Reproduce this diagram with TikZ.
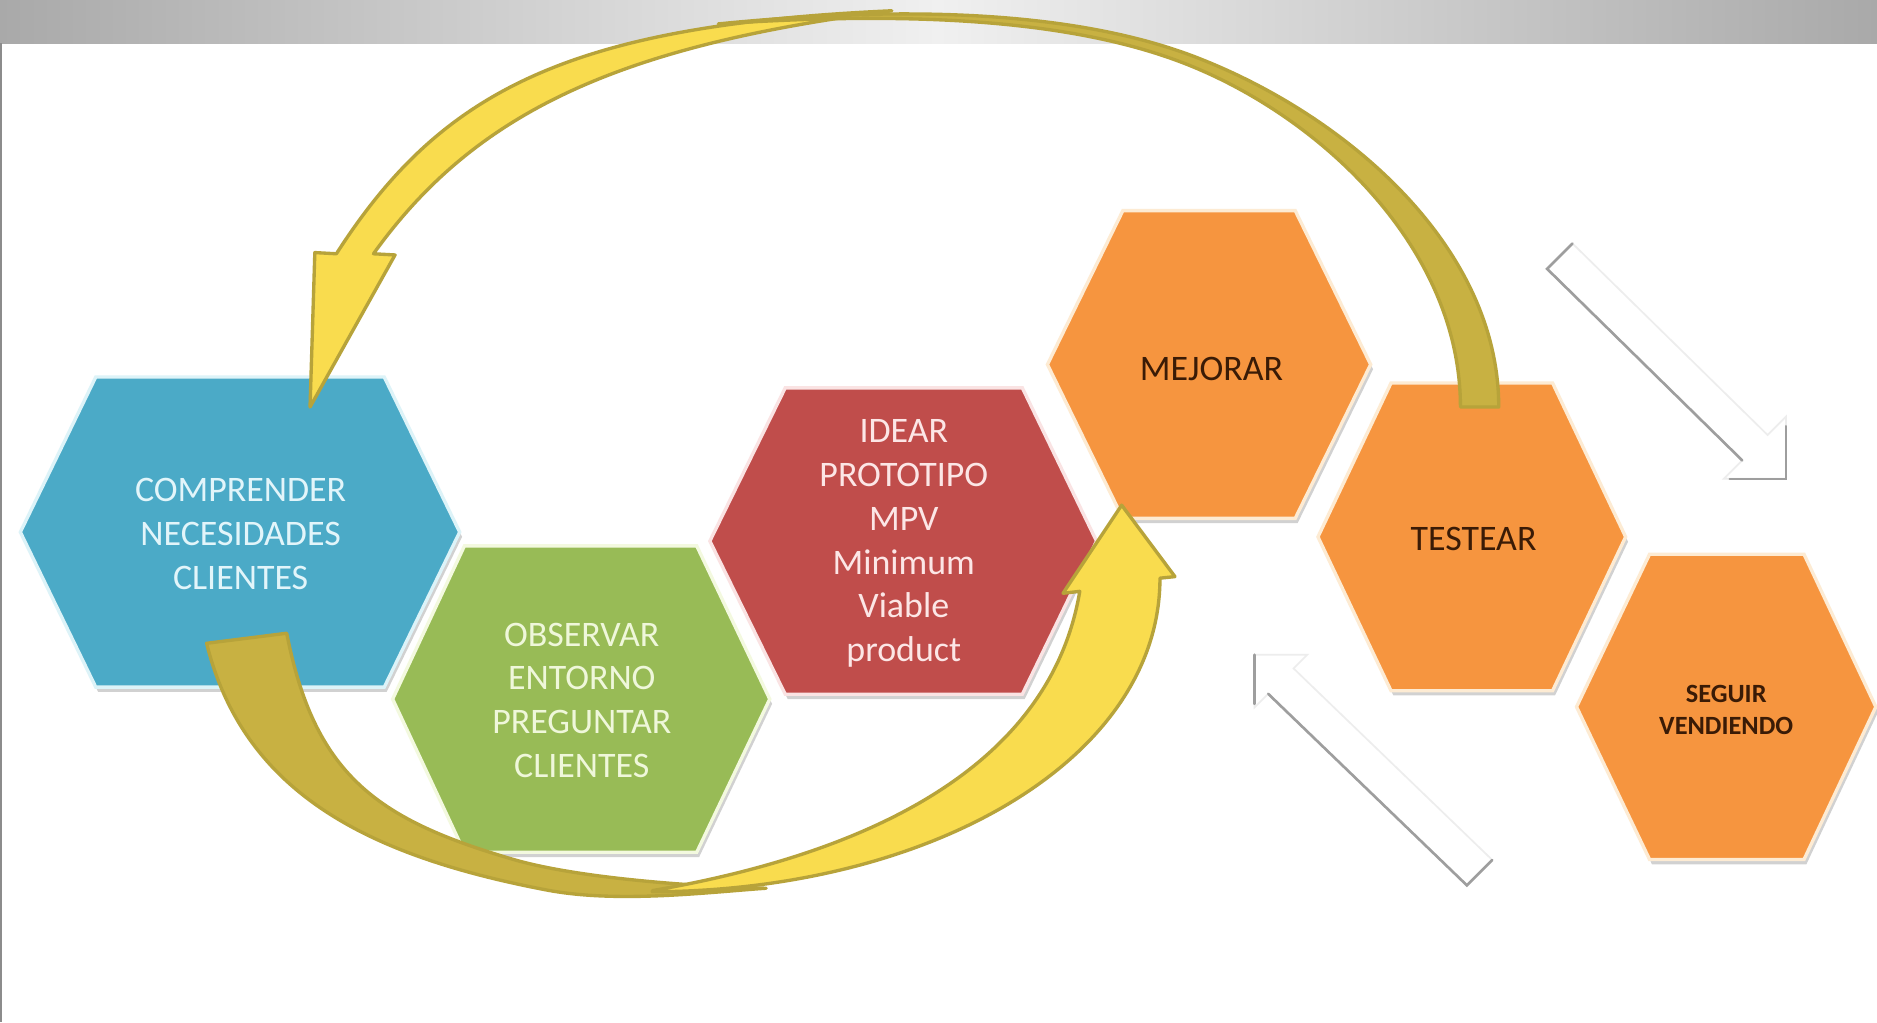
\documentclass[tikz,border=0pt]{standalone}
\usepackage{fontspec}
\setmainfont{Carlito}
\definecolor{hexblue}{HTML}{4BAAC7}
\definecolor{hexgreen}{HTML}{98BB56}
\definecolor{hexred}{HTML}{C04D4B}
\definecolor{hexorange}{HTML}{F6953F}
\definecolor{rimblue}{HTML}{DDF3F8}
\definecolor{rimgreen}{HTML}{F3F9DF}
\definecolor{rimred}{HTML}{FAE3E3}
\definecolor{rimorange}{HTML}{FDEBD3}
\definecolor{txtblue}{HTML}{E2F5FA}
\definecolor{txtgreen}{HTML}{EFF7DA}
\definecolor{txtred}{HTML}{FCE6E6}
\definecolor{txtdark}{HTML}{3A1B06}
\definecolor{arrowyellow}{HTML}{F9DC4E}
\definecolor{arrowolive}{HTML}{C8B142}
\definecolor{arrowedge}{HTML}{B7A33A}
\definecolor{barshade}{HTML}{A9A9A9}
\definecolor{barlight}{HTML}{F0F0F0}
\newcommand\hexa[9]{%
  \fill[hexshadow,xshift=1pt,yshift=-2pt] (#3,#7) -- (#4,#7) -- (#6,#8) -- (#4,#9) -- (#3,#9) -- (#5,#8) -- cycle;
  \filldraw[hexbody,fill=#1,draw=#2] (#3,#7) -- (#4,#7) -- (#6,#8) -- (#4,#9) -- (#3,#9) -- (#5,#8) -- cycle;}
\newcommand\mainsize{\fontsize{15}{18.3}\selectfont}
\begin{document}
\begin{tikzpicture}[x=0.5pt,y=-0.5pt,
  hexshadow/.style={fill=black,opacity=0.18},
  hexbody/.style={line width=1.4pt,line join=miter},
  lbl/.style={align=center,inner sep=0pt},
  arrowline/.style={draw=arrowedge,line width=1.4pt,line join=round},
  ghostarrow/.style={fill=white,draw=black!7,line width=0.7pt},
  ghostedge/.style={draw=black!38,line width=1.1pt,line cap=round}]

\useasboundingbox (0,0) rectangle (1568,854);
\fill[white] (0,0) rectangle (1568,854);
% top bar
\shade[left color=barshade,right color=barlight] (0,0) rectangle (784,36);
\shade[left color=barlight,right color=barshade] (783,0) rectangle (1568,36);
\draw[black!45,line width=0.8pt] (0.8,36) -- (0.8,854);

% hexagons
\hexa{hexblue}{rimblue}{80}{321}{17}{384}{315}{444.5}{574}
\hexa{hexgreen}{rimgreen}{388}{582}{328}{643}{456}{584}{712}
\hexa{hexred}{rimred}{656}{854}{593}{916}{324}{452}{580}
\hexa{hexorange}{rimorange}{938}{1082}{875}{1145}{176}{304.5}{433}
\hexa{hexorange}{rimorange}{1162}{1297}{1101}{1358}{320}{448.5}{577}
\hexa{hexorange}{rimorange}{1378}{1507}{1317}{1567}{463}{590.5}{718}

\node[lbl,text=txtblue,font=\mainsize] (comprender) at (201,446) {COMPRENDER\\NECESIDADES\\CLIENTES};
\node[lbl,text=txtgreen,font=\mainsize] (observar) at (486,585) {OBSERVAR\\ENTORNO\\PREGUNTAR\\CLIENTES};
\node[lbl,text=txtred,font=\mainsize] (idear) at (755,454) {IDEAR\\PROTOTIPO\\MPV\\Minimum\\Viable\\product};
\node[lbl,text=txtdark,font=\mainsize] (mejorar) at (1012,308) {MEJORAR};
\node[lbl,text=txtdark,font=\mainsize] (testear) at (1231,450) {TESTEAR};
\node[lbl,text=txtdark,font=\fontsize{11}{13.5}\selectfont\bfseries] (seguir) at (1442,593) {SEGUIR\\VENDIENDO};

% light outlined arrows on the right
\filldraw[ghostarrow] (1292.4,224.6) -- (1455.4,384.6) -- (1440,400) -- (1492,400) -- (1492,348) -- (1476.6,363.4) -- (1313.6,203.4) -- cycle;
\draw[ghostedge] (1313.6,203.4) -- (1292.4,224.6) -- (1455.4,384.6);
\draw[ghostedge] (1445,400) -- (1492,400) -- (1492,356);
\filldraw[ghostarrow] (1048,547) -- (1048,591) -- (1059.4,579.6) -- (1225.4,739.6) -- (1246.6,718.4) -- (1080.6,558.4) -- (1092,547) -- cycle;
\draw[ghostedge] (1048,588) -- (1048,547);
\draw[ghostedge] (1059.4,579.6) -- (1225.4,739.6) -- (1246.6,718.4);

% big top curved arrow (TESTEAR -> COMPRENDER)
\filldraw[arrowline,fill=arrowyellow] (259,340) -- (263,211) -- (281,212)
  .. controls (368.5,75.5) and (475.5,21) .. (745,9)
  .. controls (514,38.5) and (396,95) .. (312,212) -- (330,213) -- cycle;
\filldraw[arrowline,fill=arrowolive] (600,20) .. controls (750,5) and (894,8) .. (997,47)
  .. controls (1123,95) and (1252,205) .. (1252,340) -- (1220,340)
  .. controls (1220,210) and (1108,102) .. (997,56)
  .. controls (895.5,13.8) and (750,10) .. (600,20) -- cycle;

% bottom curved arrow (COMPRENDER -> MEJORAR)
\filldraw[arrowline,fill=arrowolive] (172.6,537.4) .. controls (203.8,663.5) and (309.4,715.4) .. (456.7,743.5)
  .. controls (515.6,754.7) and (590,745.5) .. (640,742)
  .. controls (590,741) and (486.6,734.7) .. (429,718)
  .. controls (313.8,684.5) and (262.7,646.7) .. (239.5,529) -- cycle;
\filldraw[arrowline,fill=arrowyellow] (545,745) .. controls (780,744) and (969,633) .. (969,483)
  -- (981.5,481.7) -- (937,422) -- (888,495.6) -- (902,494)
  .. controls (878.8,632) and (742,710) .. (545,744) -- cycle;
\end{tikzpicture}
\end{document}
